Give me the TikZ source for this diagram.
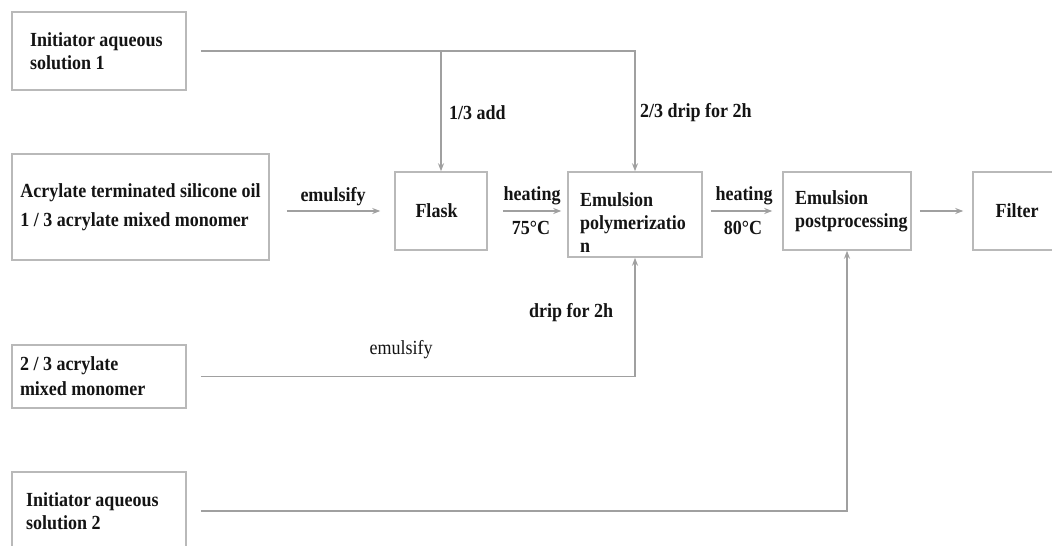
\documentclass[tikz,border=0pt]{standalone}
\usepackage{fontspec}
\setmainfont{Liberation Serif}[FakeStretch=0.9]
\usetikzlibrary{arrows.meta}
\definecolor{boxgray}{RGB}{185,185,185}
\definecolor{linegray}{RGB}{160,160,160}
\definecolor{ink}{RGB}{20,20,20}
\tikzset{
  boxnode/.style={draw=boxgray, line width=1.5pt, rectangle, inner sep=0pt, text=ink,
    font=\fontsize{20}{23}\selectfont\bfseries},
  conn/.style={draw=linegray, line width=1.5pt},
  arr/.style={conn, -{Stealth[length=8pt,width=6pt]}},
  lbl/.style={text=ink, inner sep=0pt, font=\fontsize{20}{23}\selectfont\bfseries},
  lblr/.style={text=ink, inner sep=0pt, font=\fontsize{20}{23}\selectfont},
}
\begin{document}
\begin{tikzpicture}[x=1pt,y=-1pt]
\useasboundingbox (0,0) rectangle (1052,546);
\fill[white] (0,0) rectangle (1052,546);

\node[boxnode, minimum width=174pt, minimum height=78pt, text width=138pt, align=flush left] (ini1) at (99,51)
  {Initiator aqueous\\solution 1};
\node[boxnode, minimum width=257pt, minimum height=106pt, align=left] (mix1) at (140.5,207)
  {Acrylate terminated silicone oil\\[6pt]1 / 3 acrylate mixed monomer};
\node[boxnode, minimum width=92pt, minimum height=78pt, align=center] (flask) at (441,211) {\hspace*{-9pt}Flask};
\node[boxnode, minimum width=134pt, minimum height=85pt, text width=110pt, align=flush left, text height=29pt] (emp) at (635,214.5)
  {Emulsion\\polymerizatio\\n};
\node[boxnode, minimum width=128pt, minimum height=78pt, text width=104pt, align=flush left] (post) at (847,211)
  {Emulsion\\postprocessing};
\node[boxnode, minimum width=88pt, minimum height=78pt, align=center] (filter) at (1017,211) {Filter};
\node[boxnode, minimum width=174pt, minimum height=63pt, text width=158pt, align=flush left] (mix2) at (99,376.5)
  {2 / 3 acrylate\\[2pt]mixed monomer};
\node[boxnode, minimum width=174pt, minimum height=78pt, text width=146pt, align=flush left] (ini2) at (99,511)
  {Initiator aqueous\\solution 2};

% connectors
\draw[arr] ([xshift=14pt]ini1.east) -| (emp.north);
\draw[arr] (ini1.east -| flask.north) -- (flask.north);
\draw[arr, shorten <=17pt, shorten >=14pt] (mix1.east |- flask.west) -- (flask.west);
\draw[arr, shorten <=15pt, shorten >=6pt] (flask.east) -- (flask.east -| emp.west);
\draw[arr, shorten <=8pt, shorten >=10pt] (emp.east |- post.west) -- (post.west);
\draw[arr, shorten <=8pt, shorten >=9pt] (post.east) -- (filter.west);
\draw[arr] ([xshift=14pt]mix2.east) -| (emp.south);
\draw[arr] ([xshift=14pt]ini2.east) -| (post.south);

% labels
\node[lbl] (l1) at (333,197) {emulsify};
\node[lbl, anchor=west] (l2) at (449,113) {1/3 add};
\node[lbl, anchor=west] (l3) at (640,113) {2/3 drip for 2h};
\node[lbl] (l4) at (532,196) {heating};
\node[lbl] (l5) at (531,228) {75°C};
\node[lbl] (l6) at (744,196) {heating};
\node[lbl] (l7) at (743,228) {80°C};
\node[lbl] (l8) at (571,313) {drip for 2h};
\node[lblr] (l9) at (401,350) {emulsify};
\end{tikzpicture}
\end{document}
